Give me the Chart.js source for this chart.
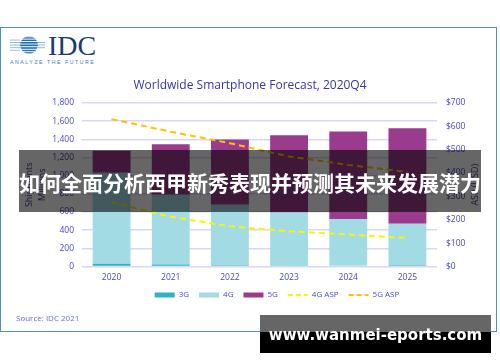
<!DOCTYPE html>
<html>
<head>
<meta charset="utf-8">
<script src="https://cdn.jsdelivr.net/npm/chart.js@4/dist/chart.umd.min.js"></script>
<style>
html,body{margin:0;padding:0;background:#fff;width:500px;height:362px;overflow:hidden;position:relative;font-family:"Open Sans",sans-serif;}
#card{position:absolute;left:0;top:26.5px;width:495px;height:303.5px;border:1.5px solid #4b8fcf;}
#cv{position:absolute;left:0;top:0;}
#logo{position:absolute;left:0;top:28px;}
#src{position:absolute;left:16px;top:312px;font:8px "Open Sans";color:#6b6bd6;}
#band{position:absolute;left:19px;top:150px;width:462px;height:59px;padding-top:3px;background:rgba(0,0,0,0.6);color:#fff;font:bold 21px "Noto Sans CJK SC";text-align:center;line-height:59px;white-space:nowrap;}
#wm1{position:absolute;left:260px;top:315px;width:231px;height:17px;background:#666;}
#wm2{position:absolute;left:260px;top:332px;width:231px;height:21px;background:#000;}
#wmt{position:absolute;left:260px;top:326px;width:231px;text-align:center;color:#fff;font:bold 15px "DejaVu Sans";line-height:18px;white-space:nowrap;}
</style>
</head>
<body>
<div id="card"></div>
<svg id="logo" width="110" height="42" viewBox="0 0 110 42">
  <defs><clipPath id="gc"><circle cx="29" cy="17" r="9"/></clipPath></defs>
  <g clip-path="url(#gc)">
    <rect x="18" y="7" width="22" height="1.3" fill="#1f6fb8"/>
    <rect x="18" y="9.3" width="22" height="1.3" fill="#1f6fb8"/>
    <rect x="18" y="11.6" width="22" height="1.4" fill="#1f6fb8"/>
    <rect x="18" y="14" width="22" height="1.6" fill="#1f6fb8"/>
    <rect x="18" y="16.5" width="22" height="1.7" fill="#1f6fb8"/>
    <rect x="18" y="19.2" width="22" height="1.6" fill="#1f6fb8"/>
    <rect x="18" y="21.8" width="22" height="1.4" fill="#1f6fb8"/>
    <rect x="18" y="24.2" width="22" height="1.3" fill="#1f6fb8"/>
  </g>
  <g fill="#8fb8e0">
    <rect x="10" y="11.6" width="10" height="0.9"/>
    <rect x="10" y="14" width="10" height="1"/>
    <rect x="10" y="16.5" width="10" height="1"/>
    <rect x="10" y="19.2" width="10" height="1"/>
    <rect x="10" y="21.8" width="10" height="0.9"/>
    <rect x="38" y="14" width="7" height="1"/>
    <rect x="38" y="16.5" width="7" height="1"/>
    <rect x="38" y="19.2" width="7" height="1"/>
  </g>
  <text x="48" y="27" font-family="Liberation Serif" font-size="28" fill="#1b3a72">IDC</text>
  <text x="10" y="36" font-family="Liberation Sans" font-size="5.2" letter-spacing="1.55" fill="#3a7cc0">ANALYZE THE FUTURE</text>
</svg>
<canvas id="cv" width="500" height="362"></canvas>
<div id="src">Source: IDC 2021</div>
<div id="band">如何全面分析西甲新秀表现并预测其未来发展潜力</div>
<div id="wm1"></div>
<div id="wm2"></div>
<div id="wmt">www.wanmei-eports.com</div>
<script>
const years = ['2020', '2021', '2022', '2023', '2024', '2025'];
const units3G = [30, 22, 15, 10, 7, 5];
const units4G = [1002, 768, 665, 585, 516, 467];
const units5G = [241, 557, 717, 850, 962, 1050];
const asp4G = [275, 213, 172, 151, 137, 122];
const asp5G = [631, 577, 528, 471, 435, 405];
const chartTitle = 'Worldwide Smartphone Forecast, 2020Q4';
const leftTitle = ['Shipments', 'Millions'];
const rightTitle = 'ASP (USD)';

const tickColor = '#4848c2';
const tickFont = {family: 'Open Sans', size: 8.5};

const rightTitlePlugin = {
  id: 'rightTitle',
  afterDraw(chart) {
    const ctx = chart.ctx;
    const a = chart.chartArea;
    ctx.save();
    ctx.translate(475, (a.top + a.bottom) / 2);
    ctx.rotate(-Math.PI / 2);
    ctx.fillStyle = '#3d3d92';
    ctx.font = '9px "Open Sans"';
    ctx.textAlign = 'center';
    ctx.textBaseline = 'middle';
    ctx.fillText(rightTitle, 0, 0);
    ctx.restore();
  }
};
const legendShift = {
  id: 'legendShift',
  afterLayout(chart) {
    if (chart.legend) { chart.legend.left += 27; chart.legend.right += 27; }
  }
};

new Chart(document.getElementById('cv'), {
  data: {
    labels: years,
    datasets: [
      {type: 'bar', label: '3G', data: units3G, backgroundColor: '#2fb0c6', yAxisID: 'y', order: 1, stack: 's'},
      {type: 'bar', label: '4G', data: units4G, backgroundColor: '#a3dbe5', yAxisID: 'y', order: 1, stack: 's'},
      {type: 'bar', label: '5G', data: units5G, backgroundColor: '#9b3b8e', yAxisID: 'y', order: 1, stack: 's'},
      {type: 'line', label: '4G ASP', data: asp4G, borderColor: '#f7f700', backgroundColor: '#f7f700', borderWidth: 2, borderDash: [6, 4], pointRadius: 0, tension: 0, fill: false, yAxisID: 'y1', order: 0},
      {type: 'line', label: '5G ASP', data: asp5G, borderColor: '#ffc000', backgroundColor: '#ffc000', borderWidth: 2, borderDash: [6, 4], pointRadius: 0, tension: 0, fill: false, yAxisID: 'y1', order: 0}
    ]
  },
  options: {
    responsive: false,
    animation: false,
    barPercentage: 0.64,
    categoryPercentage: 1,
    layout: {padding: {top: 78, bottom: 53, left: 0, right: 0}},
    plugins: {
      tooltip: {enabled: false},
      title: {display: true, text: chartTitle, color: '#3535a8', font: {family: 'Open Sans', size: 12, weight: 'normal'}, padding: {top: 0, bottom: 10.6}},
      legend: {
        position: 'bottom',
        labels: {
          usePointStyle: true, pointStyleWidth: 20, boxHeight: 5, padding: 10,
          color: '#4a4ac4', font: {family: 'Open Sans', size: 8},
          sort: (a, b) => a.datasetIndex - b.datasetIndex,
          generateLabels(chart) {
            const items = Chart.defaults.plugins.legend.labels.generateLabels(chart);
            return items.map(it => {
              const ds = chart.data.datasets[it.datasetIndex];
              if (ds.type === 'line') {
                it.pointStyle = 'line'; it.lineWidth = 2; it.lineDash = [5, 3];
                it.strokeStyle = ds.borderColor;
              } else {
                it.pointStyle = 'rect'; it.lineWidth = 0; it.fillStyle = ds.backgroundColor;
              }
              return it;
            });
          }
        }
      }
    },
    scales: {
      x: {
        stacked: true,
        grid: {display: false, drawTicks: false},
        border: {display: false},
        ticks: {color: tickColor, font: tickFont, padding: 6},
        afterFit(s) { s.height = 14.5; }
      },
      y: {
        stacked: true, position: 'left', min: 0, max: 1800,
        ticks: {stepSize: 200, color: tickColor, font: tickFont, padding: 8},
        grid: {color: '#d8d8f6', lineWidth: 1.5, drawTicks: false},
        border: {display: false},
        title: {display: true, text: leftTitle, color: '#3d3d92', font: {family: 'Open Sans', size: 9, lineHeight: 1.5}, padding: {top: 22.5, bottom: 0}},
        afterFit(s) { s.width = 82; }
      },
      y1: {
        position: 'right', min: 0, max: 700,
        ticks: {stepSize: 100, color: tickColor, font: tickFont, padding: 9, callback: v => '$' + v},
        grid: {display: false, drawTicks: false},
        border: {display: false},
        afterFit(s) { s.width = 63; }
      }
    }
  },
  plugins: [rightTitlePlugin, legendShift]
});
</script>
</body>
</html>
